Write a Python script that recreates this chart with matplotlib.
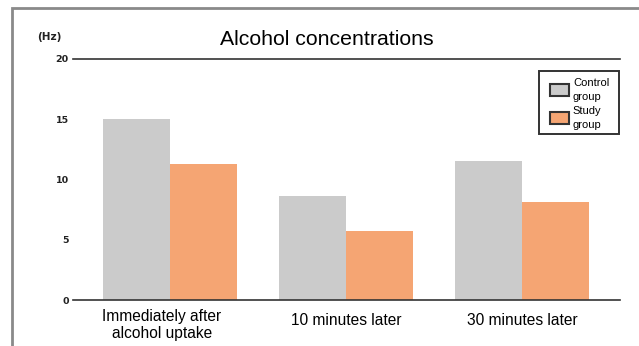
import matplotlib
matplotlib.use("Agg")
import matplotlib.pyplot as plt
import matplotlib.transforms as mtransforms
from matplotlib.patches import Rectangle
import numpy as np

# values per time point
categories = ["Immediately after\nalcohol uptake", "10 minutes later", "30 minutes later"]
control_group = [15.0, 8.6, 11.5]
study_group = [11.3, 5.7, 8.1]
y_ticks = [0, 5, 10, 15, 20]
series_names = ["Control\ngroup", "Study\ngroup"]

GREY = "#cbcbcb"
ORANGE = "#f5a573"

plt.rcParams["font.family"] = ["Liberation Sans", "DejaVu Sans"]

fig = plt.figure(figsize=(6.39, 3.46), dpi=100)

# grey frame around the chart area
frame = Rectangle((12 / 639, -0.1), 1.2, 1.1 - 8 / 346, transform=fig.transFigure,
                  fill=False, edgecolor="#8a8a8a", linewidth=2.0)
fig.patches.append(frame)

ax = fig.add_axes([73 / 639, 1 - 300 / 346, (620 - 73) / 639, (300 - 59) / 346])

x = np.arange(len(categories))
w = 0.38
ax.bar(x - w / 2, control_group, width=w, color=GREY)
ax.bar(x + w / 2, study_group, width=w, color=ORANGE)

ax.set_xlim(-0.551, 2.557)
ax.set_ylim(0, 20)

for s in ax.spines.values():
    s.set_visible(False)
ax.axhline(0, color="#333333", linewidth=1.2, clip_on=False)
ax.axhline(20, color="#333333", linewidth=1.2, clip_on=False)

ax.set_yticks(y_ticks)
ax.set_yticklabels([str(t) for t in y_ticks], fontsize=6.8, fontweight="bold",
                   family="DejaVu Sans", color="#222222")
ax.tick_params(axis="y", length=0, pad=3)
ax.set_xticks(x)
ax.set_xticklabels(categories, fontsize=11.2, linespacing=1.15, va="center")
ax.tick_params(axis="x", length=0, pad=14.5)

# the two-line label sits a little lower and to the left
first = ax.get_xticklabels()[0]
first.set_transform(first.get_transform() +
                    mtransforms.ScaledTranslation(-8 / 100, -5 / 100, fig.dpi_scale_trans))

ax.set_title("Alcohol concentrations", fontsize=15.3, pad=10, x=0.4635)
fig.text(37 / 639, 1 - 37 / 346, "(Hz)", fontsize=7.5, fontweight="bold",
         family="DejaVu Sans", va="center", ha="left", color="#222222")

# legend box, built by hand so the two-line labels keep their spacing
ax.add_patch(Rectangle((0.852, 0.689), 0.146, 0.261, transform=ax.transAxes,
                       facecolor="white", edgecolor="#333333", linewidth=1.4,
                       clip_on=False, zorder=5))
for name, color, y0 in zip(series_names, [GREY, ORANGE], [0.846, 0.730]):
    ax.add_patch(Rectangle((0.872, y0), 0.035, 0.052, transform=ax.transAxes,
                           facecolor=color, edgecolor="#333333", linewidth=1.5,
                           clip_on=False, zorder=6))
    ax.text(0.914, y0 + 0.026, name, transform=ax.transAxes, fontsize=8,
            linespacing=1.55, va="center", ha="left", zorder=6)

fig.savefig("out.png", dpi=100)
